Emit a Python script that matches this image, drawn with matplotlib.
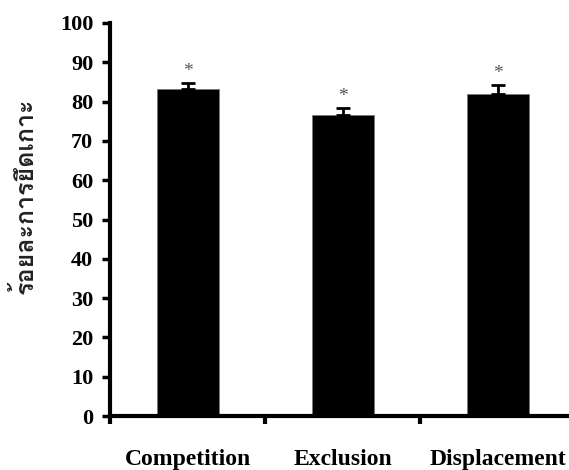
import matplotlib
matplotlib.use("Agg")
import matplotlib.pyplot as plt
from matplotlib import font_manager
from matplotlib.ft2font import FT2Font
import numpy as np

# data
categories = ["Competition", "Exclusion", "Displacement"]
values = [83.2, 76.7, 81.9]
errors = [1.6, 1.6, 2.3]
y_label = "ร้อยละการยึดเกาะ"

# find some installed font that has thai glyphs
thai_family = None
for f in font_manager.fontManager.ttflist:
    try:
        if 0x0E23 in FT2Font(f.fname).get_charmap():
            thai_family = f.name
            break
    except Exception:
        pass

fig = plt.figure(figsize=(5.69, 4.70), dpi=100)
ax = fig.add_axes([110 / 569, 1 - 416 / 470, 465 / 569, 393 / 470])

x = np.arange(len(categories))
ax.bar(x, values, width=0.4, color="black", edgecolor="#777777", linewidth=0.5)
ax.errorbar(x, values, yerr=[np.zeros(len(errors)), errors], fmt="none",
            ecolor="black", elinewidth=2, capsize=5, capthick=2)

# asterisks over each bar
for xi, v, e in zip(x, values, errors):
    ax.text(xi, v + e + 0.8, "*", ha="center", va="bottom", color="#555555",
            fontsize=14, family="Liberation Serif")

ax.set_xlim(-0.5, 2.5)
ax.set_ylim(0, 100)
ax.set_yticks(np.arange(0, 101, 10))
ax.set_xticks(x)
ax.set_xticklabels(categories)
ax.set_xticks([-0.5, 0.5, 1.5], minor=True)
ax.tick_params(axis="x", which="major", length=0, pad=24)
ax.tick_params(axis="x", which="minor", length=6, width=3, direction="out")
ax.tick_params(axis="y", length=6, width=2.5, direction="out", pad=6)

for lab in ax.get_xticklabels():
    lab.set_family("Liberation Serif")
    lab.set_fontweight("bold")
    lab.set_fontsize(17)
for lab in ax.get_yticklabels():
    lab.set_family("Liberation Serif")
    lab.set_fontweight("bold")
    lab.set_fontsize(16)

for s in ["top", "right"]:
    ax.spines[s].set_visible(False)
ax.spines["left"].set_linewidth(3)
ax.spines["bottom"].set_linewidth(3)

fams = [thai_family, "DejaVu Sans"] if thai_family else ["DejaVu Sans"]
ax.set_ylabel(y_label, family=fams, fontsize=18, fontweight="bold", color="#222222")
ax.yaxis.set_label_coords(-0.155, 0.56)

fig.savefig("out.png", dpi=100)
